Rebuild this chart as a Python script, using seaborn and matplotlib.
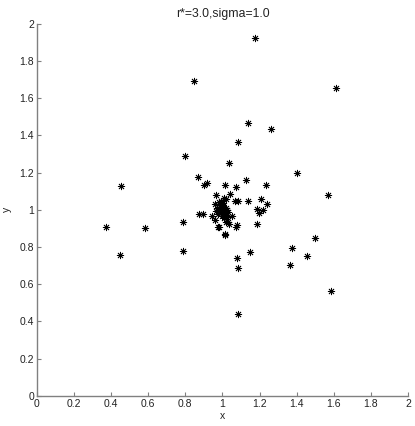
import numpy as np
import pandas as pd
import matplotlib
matplotlib.use("Agg")
import matplotlib.pyplot as plt
import seaborn as sns

# point positions
x_vals = [
    1.085, 0.800, 1.035, 1.400, 0.866, 0.915, 0.902, 1.012, 1.071, 1.127,
    1.233, 0.965, 1.040, 1.017, 1.085, 1.136, 1.208, 1.238, 1.184, 1.220,
    1.198, 0.875, 0.897, 0.787, 0.942, 0.960, 1.019, 1.037, 1.074, 0.981,
    1.184, 1.015, 0.787, 1.148, 1.080, 1.373, 1.366, 1.082, 0.455, 0.372,
    0.581, 0.449, 1.567, 1.500, 1.456, 1.585, 1.175, 0.845, 1.139, 1.261,
    1.082, 1.612, 1.010, 0.960, 1.022, 1.049, 1.031, 1.076, 0.977, 1.013,
    1.067,
    # dense cluster near (1, 1)
    0.970, 0.985, 0.995, 1.005, 1.015, 0.975, 0.990, 1.000, 1.010, 1.020,
    0.980, 0.995, 1.005, 0.985, 1.000, 1.025, 0.965, 1.030, 0.990, 1.010,
]
y_vals = [
    1.362, 1.290, 1.251, 1.197, 1.174, 1.145, 1.131, 1.133, 1.125, 1.158,
    1.131, 1.079, 1.084, 1.057, 1.047, 1.045, 1.057, 1.031, 1.004, 1.000,
    0.985, 0.980, 0.980, 0.935, 0.968, 0.946, 0.935, 0.923, 0.910, 0.905,
    0.925, 0.866, 0.778, 0.771, 0.742, 0.796, 0.704, 0.685, 1.129, 0.910,
    0.900, 0.756, 1.082, 0.848, 0.753, 0.566, 1.926, 1.694, 1.469, 1.435,
    0.437, 1.654, 1.066, 1.030, 0.959, 0.968, 0.932, 0.918, 0.905, 0.870,
    1.048,
    1.010, 1.000, 0.990, 1.020, 0.995, 0.975, 1.030, 1.005, 0.985, 1.010,
    1.040, 0.965, 1.035, 1.015, 0.980, 1.000, 0.995, 0.990, 1.050, 0.955,
]
x_ticks = [0, 0.2, 0.4, 0.6, 0.8, 1, 1.2, 1.4, 1.6, 1.8, 2]
y_ticks = [0, 0.2, 0.4, 0.6, 0.8, 1, 1.2, 1.4, 1.6, 1.8, 2]
tick_labels = ["0", "0.2", "0.4", "0.6", "0.8", "1", "1.2", "1.4", "1.6", "1.8", "2"]

df = pd.DataFrame({"x": x_vals, "y": y_vals})

sns.set_style("ticks")
plt.rcParams['font.family'] = ['Liberation Sans', 'DejaVu Sans']
plt.rcParams['xtick.direction'] = 'in'
plt.rcParams['ytick.direction'] = 'in'

fig = plt.figure(figsize=(4.15, 4.26), dpi=100)
ax = fig.add_axes([0.089, 0.071, 0.894, 0.873])

sns.scatterplot(data=df, x="x", y="y", marker=(8, 2, 0), s=22,
                color="black", linewidth=0.6, ax=ax)

ax.set_xlim(0, 2)
ax.set_ylim(0, 2)
ax.set_xticks(x_ticks)
ax.set_xticklabels(tick_labels)
ax.set_yticks(y_ticks)
ax.set_yticklabels(tick_labels)
ax.tick_params(labelsize=7.5, length=3, width=0.8, color="#808080",
               labelcolor="#222222", pad=2)
sns.despine(ax=ax)
for side in ["left", "bottom"]:
    ax.spines[side].set_color("#808080")
    ax.spines[side].set_linewidth(1.0)

ax.set_title("r*=3.0,sigma=1.0", fontsize=8.8, color="#222222", pad=5)
ax.set_xlabel("x", fontsize=7.5, color="#222222", labelpad=2)
ax.set_ylabel("y", fontsize=7.5, color="#222222")
ax.yaxis.set_label_coords(-0.068, 0.5)

fig.savefig("out.png", dpi=100)
